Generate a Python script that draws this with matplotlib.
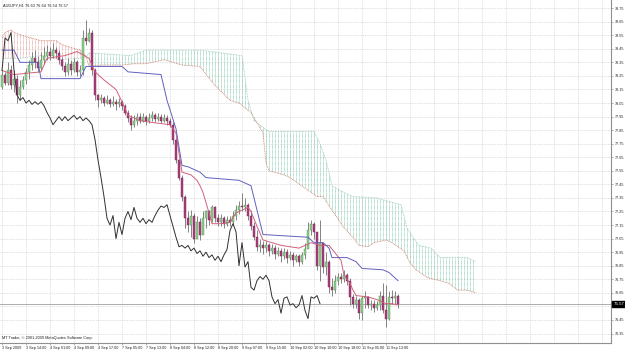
import numpy as np
import matplotlib
matplotlib.use("Agg")
import matplotlib.pyplot as plt
import matplotlib.transforms as mtransforms
from matplotlib.patches import Polygon

plt.rcParams["font.family"] = ["Liberation Sans", "DejaVu Sans"]

# ---- hourly candles (bar index 0 = 3 Sep 2009 06:00) ----
open0 = 78.17
close = [78.26, 78.20, 78.29, 78.18, 78.23, 78.11, 78.17, 78.22, 78.28, 78.33,
         78.38, 78.35, 78.31, 78.37, 78.40, 78.43, 78.40, 78.44, 78.42, 78.37,
         78.32, 78.28, 78.34, 78.29, 78.35, 78.28, 78.29, 78.53, 78.51, 78.57,
         78.29, 78.11, 78.07, 78.09, 78.05, 78.07, 78.04, 78.06, 78.04, 78.06,
         78.03, 77.98, 77.94, 77.89, 77.92, 77.95, 77.92, 77.95, 77.92, 77.94,
         77.96, 77.93, 77.95, 77.92, 77.94, 77.92, 77.89, 77.78, 77.63, 77.50,
         77.36, 77.20, 77.15, 77.22, 77.05, 77.17, 77.08, 77.20, 77.25, 77.19,
         77.28, 77.20, 77.17, 77.20, 77.16, 77.19, 77.17, 77.22, 77.26, 77.29,
         77.28, 77.30, 77.22, 77.14, 77.06, 76.99, 77.00, 76.98, 77.00, 76.96,
         76.98, 76.94, 76.96, 76.92, 76.95, 76.91, 76.93, 76.89, 76.92, 76.88,
         76.93, 76.97, 77.11, 77.16, 77.10, 76.85, 77.02, 76.84, 76.88, 76.69,
         76.67, 76.74, 76.77, 76.75, 76.78, 76.74, 76.62, 76.57, 76.60, 76.50,
         76.61, 76.62, 76.56, 76.57, 76.54, 76.56, 76.63, 76.52, 76.46, 76.62,
         76.61, 76.63, 76.57]
high = [78.29, 78.28, 78.35, 78.33, 78.29, 78.26, 78.22, 78.25, 78.31, 78.37,
        78.43, 78.44, 78.40, 78.43, 78.46, 78.48, 78.46, 78.49, 78.46, 78.44,
        78.39, 78.35, 78.38, 78.37, 78.38, 78.37, 78.33, 78.59, 78.66, 78.60,
        78.59, 78.31, 78.12, 78.12, 78.10, 78.11, 78.09, 78.10, 78.08, 78.09,
        78.07, 78.04, 78.00, 77.96, 77.96, 77.98, 77.98, 77.98, 77.96, 77.98,
        77.99, 77.98, 77.98, 77.97, 77.97, 77.96, 77.94, 77.91, 77.79, 77.64,
        77.52, 77.37, 77.25, 77.26, 77.24, 77.22, 77.20, 77.25, 77.26, 77.26,
        77.30, 77.29, 77.23, 77.23, 77.22, 77.22, 77.22, 77.25, 77.30, 77.33,
        77.39, 77.35, 77.31, 77.26, 77.17, 77.11, 77.05, 77.03, 77.03, 77.02,
        77.01, 77.00, 76.99, 76.98, 76.98, 76.97, 76.96, 76.95, 76.94, 76.94,
        76.95, 77.02, 77.17, 77.19, 77.17, 77.10, 77.19, 77.02, 76.95, 76.89,
        76.76, 76.78, 76.80, 76.80, 76.82, 76.80, 76.76, 76.64, 76.63, 76.61,
        76.63, 76.66, 76.63, 76.60, 76.60, 76.59, 76.66, 76.72, 76.71, 76.66,
        76.67, 76.66, 76.64]
low = [78.15, 78.18, 78.18, 78.15, 78.13, 78.05, 78.07, 78.15, 78.19, 78.23,
       78.29, 78.31, 78.28, 78.29, 78.34, 78.37, 78.37, 78.38, 78.38, 78.34,
       78.29, 78.25, 78.26, 78.26, 78.28, 78.25, 78.25, 78.26, 78.48, 78.50,
       78.26, 78.07, 78.02, 78.05, 78.03, 78.04, 78.02, 78.03, 78.00, 78.02,
       78.00, 77.96, 77.91, 77.85, 77.87, 77.89, 77.90, 77.91, 77.89, 77.90,
       77.92, 77.91, 77.92, 77.90, 77.91, 77.89, 77.87, 77.75, 77.61, 77.48,
       77.33, 77.13, 77.10, 77.06, 77.02, 77.08, 77.04, 77.10, 77.13, 77.15,
       77.17, 77.17, 77.14, 77.14, 77.13, 77.14, 77.14, 77.15, 77.19, 77.23,
       77.25, 77.25, 77.19, 77.11, 77.04, 76.96, 76.95, 76.94, 76.95, 76.92,
       76.94, 76.90, 76.92, 76.88, 76.90, 76.87, 76.89, 76.85, 76.88, 76.85,
       76.86, 76.90, 76.98, 77.08, 77.05, 76.82, 76.74, 76.80, 76.78, 76.65,
       76.63, 76.65, 76.71, 76.72, 76.73, 76.71, 76.56, 76.54, 76.54, 76.46,
       76.45, 76.54, 76.54, 76.52, 76.51, 76.52, 76.52, 76.50, 76.40, 76.45,
       76.57, 76.57, 76.54]

# ---- Ichimoku lines (bar index, price) ----
tenkan_x = [0, 4, 13, 15, 21, 25, 29, 31, 34, 38, 40, 42, 46, 49, 56, 58, 59, 60,
            63, 65, 66, 67, 69, 70, 73, 76, 78, 82, 83, 85, 87, 93, 99, 103, 106,
            109, 113, 114, 116, 117, 118, 122, 125, 128, 130, 132]
tenkan_y = [78.29, 78.26, 78.28, 78.38, 78.40, 78.43, 78.38, 78.28, 78.22, 78.15,
            78.06, 77.96, 77.92, 77.91, 77.89, 77.83, 77.68, 77.54, 77.52, 77.48,
            77.44, 77.39, 77.24, 77.16, 77.16, 77.17, 77.24, 77.28, 77.25, 77.14,
            77.04, 77.00, 76.98, 77.02, 77.00, 77.00, 76.89, 76.78, 76.72, 76.67,
            76.63, 76.62, 76.60, 76.57, 76.57, 76.56]
kijun_x = [0, 4, 6, 12, 13, 26, 28, 40, 42, 53, 55, 58, 60, 62, 66, 68, 79, 83,
           85, 87, 102, 104, 107, 109, 110, 115, 118, 120, 127, 129, 132]
kijun_y = [78.44, 78.44, 78.35, 78.35, 78.23, 78.23, 78.32, 78.32, 78.28, 78.26,
           78.07, 77.86, 77.59, 77.58, 77.54, 77.50, 77.48, 77.44, 77.26, 77.08,
           77.06, 77.02, 77.02, 76.98, 76.91, 76.91, 76.88, 76.83, 76.82, 76.80,
           76.74]
span_a_x = [0, 1, 3, 4, 8, 13, 18, 20, 23, 26, 28, 29, 33, 40, 44, 48, 54, 57,
            60, 66, 71, 76, 79, 83, 87, 88, 89, 94, 96, 105, 107, 110, 114, 117,
            119, 122, 124, 128, 130, 134, 136, 138, 142, 146, 149, 152, 155, 158]
span_a_y = [78.53, 78.57, 78.59, 78.57, 78.54, 78.51, 78.51, 78.48, 78.46, 78.44,
            78.40, 78.32, 78.33, 78.33, 78.34, 78.34, 78.37, 78.35, 78.33, 78.32,
            78.18, 78.07, 78.05, 77.98, 77.83, 77.61, 77.55, 77.52, 77.50, 77.36,
            77.36, 77.26, 77.13, 77.06, 77.00, 76.99, 77.02, 77.04, 77.02, 76.96,
            76.87, 76.82, 76.76, 76.74, 76.72, 76.67, 76.67, 76.65]
span_b_x = [0, 6, 13, 19, 26, 28, 29, 43, 48, 66, 80, 82, 84, 87, 89, 104, 106,
            108, 110, 114, 117, 125, 128, 133, 135, 137, 139, 143, 146, 155, 158]
span_b_y = [78.38, 78.38, 78.40, 78.37, 78.38, 78.39, 78.42, 78.40, 78.44, 78.44,
            78.40, 78.07, 77.92, 77.87, 77.84, 77.84, 77.75, 77.63, 77.44, 77.39,
            77.36, 77.35, 77.33, 77.30, 77.13, 77.06, 77.00, 76.98, 76.91, 76.91,
            76.88]
twist_bar = 28

date_labels = ["3 Sep 2009", "3 Sep 14:00", "4 Sep 01:00", "4 Sep 09:00",
               "4 Sep 17:00", "7 Sep 05:00", "7 Sep 13:00", "8 Sep 04:00",
               "8 Sep 12:00", "8 Sep 20:00", "9 Sep 07:00", "9 Sep 15:00",
               "10 Sep 02:00", "10 Sep 10:00", "10 Sep 18:00", "11 Sep 05:00",
               "11 Sep 13:00"]
price_ticks = [round(78.75 - 0.1 * k, 2) for k in range(25)]
symbol = "AUDJPY,H1"
ohlc_text = "76.63 76.64 76.54 76.57"
bid = 76.57

close = np.array(close)
high = np.array(high)
low = np.array(low)
opens = np.concatenate([[open0], close[:-1]])
bars = np.arange(len(close))

fig = plt.figure(figsize=(6.25, 3.5), dpi=100)
fig.patch.set_facecolor("white")
ax = fig.add_axes([0, 7 / 350, 611 / 625, 343 / 350])
ax.set_xlim(-0.67, 203.0)
ax.set_ylim(76.28, 78.81)

# dotted grid
grid_kw = dict(color="#c4c4c4", lw=0.5, linestyle=(0, (1, 1.5)), zorder=0)
for t in price_ticks:
    ax.axhline(t, **grid_kw)
for b in range(0, 204, 8):
    ax.axvline(b, **grid_kw)

# cloud: vertical dotted strokes at every bar, clipped to the span A / span B area
a_x, a_y = np.array(span_a_x), np.array(span_a_y)
b_x, b_y = np.array(span_b_x), np.array(span_b_y)
ia = list(a_x).index(twist_bar)
ib = list(b_x).index(twist_bar)
parts = [
    (a_x[:ia + 1], a_y[:ia + 1], b_x[:ib + 1], b_y[:ib + 1], "#e08a8a"),
    (a_x[ia:], a_y[ia:], b_x[ib:], b_y[ib:], "#6cc0a0"),
]
for ax_, ay_, bx_, by_, col in parts:
    poly = Polygon(np.column_stack([np.concatenate([ax_, bx_[::-1]]),
                                    np.concatenate([ay_, by_[::-1]])]),
                   closed=True, facecolor="none", edgecolor="none")
    ax.add_patch(poly)
    cols = np.arange(ax_[0], ax_[-1] + 1)
    lc = ax.vlines(cols, 76.28, 78.81, color=col, lw=0.55,
                   linestyle=(0, (0.8, 0.8)), zorder=1)
    lc.set_clip_path(poly)
ax.plot(a_x, a_y, color="#cc7766", lw=0.6, linestyle=(0, (1, 1)), zorder=2)
ax.plot(b_x, b_y, color="#99c9b6", lw=0.6, linestyle=(0, (1, 1)), zorder=2)

# bid line
ax.axhline(bid, color="#a0a0a0", lw=0.6, zorder=2)

# candles
ax.vlines(bars, low, high, color="#707070", lw=0.6, zorder=3)
up = close >= opens
ax.bar(bars[up], close[up] - opens[up], bottom=opens[up], width=0.7,
       color="#8fcf8f", edgecolor="#4f8f4f", lw=0.3, zorder=4)
ax.bar(bars[~up], close[~up] - opens[~up], bottom=opens[~up], width=0.7,
       color="#a8407a", edgecolor="#7a2050", lw=0.3, zorder=4)

# tenkan, kijun, chikou
ax.plot(tenkan_x, tenkan_y, color="#d0607a", lw=0.7, zorder=5)
ax.plot(kijun_x, kijun_y, color="#6060c0", lw=0.7, zorder=5)
ax.plot(bars[26:] - 26, close[26:], color="#303030", lw=0.7, zorder=5)

# axes styling
for s in ("top", "left"):
    ax.spines[s].set_visible(False)
for s in ("right", "bottom"):
    ax.spines[s].set_color("#909090")
    ax.spines[s].set_linewidth(0.8)
ax.yaxis.tick_right()
shown = [t for t in price_ticks if abs(t - 76.55) > 0.01]
ax.set_yticks(shown)
ax.set_yticklabels([f"{t:.2f}" for t in shown])
ax.set_xticks(range(0, 8 * len(date_labels), 8))
ax.set_xticklabels(date_labels, ha="left")
ax.tick_params(axis="both", labelsize=2.7, length=1.5, width=0.5,
               color="#909090", labelcolor="#202020", pad=1)

ax.text(1.004, bid, f"{bid:.2f}",
        transform=mtransforms.blended_transform_factory(ax.transAxes, ax.transData),
        fontsize=3.2, color="white", va="center", ha="left",
        bbox=dict(boxstyle="square,pad=0.25", fc="black", ec="black"))
ax.text(0.005, 0.99, f"{symbol} {ohlc_text}", transform=ax.transAxes,
        fontsize=2.8, va="top", ha="left", color="#202020")
ax.text(0.004, 0.008, "MT Trader, \u00a9 2001-2009 MetaQuotes Software Corp.",
        transform=ax.transAxes, fontsize=2.8, va="bottom", ha="left", color="#202020")

fig.savefig("out.png", dpi=100)
